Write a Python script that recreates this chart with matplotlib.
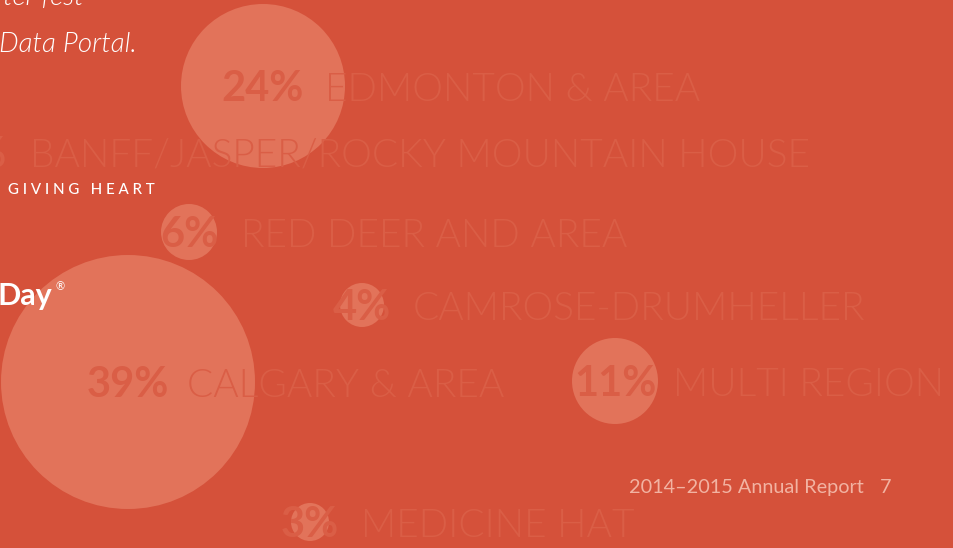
import matplotlib
matplotlib.use("Agg")
import matplotlib.pyplot as plt
from matplotlib.patches import Circle

# ---- data ----
regions = ["EDMONTON & AREA", "BANFF/JASPER/ROCKY MOUNTAIN HOUSE", "RED DEER AND AREA",
           "CAMROSE-DRUMHELLER", "CALGARY & AREA", "MULTI REGION", "MEDICINE HAT"]
percents = [24, 2, 6, 4, 39, 11, 3]

# ---- layout (pixel coordinates of the page) ----
bubble_x = [263, -22, 189, 362, 128, 615, 310]
bubble_y = [86, 152, 232, 305, 382, 381, 522]
label_x = [325, 30, 241, 413, 187, 673, 361]

BG = "#D5513A"
BUBBLE = "#E2735A"
TXT = "#DA5E46"

W, H = 954, 548
fig = plt.figure(figsize=(W / 100, H / 100), dpi=100, facecolor=BG)
ax = fig.add_axes([0, 0, 1, 1])
ax.set_xlim(0, W)
ax.set_ylim(H, 0)
ax.set_facecolor(BG)
ax.axis("off")

FS = 28  # points
for name, p, cx, cy, lx in zip(regions, percents, bubble_x, bubble_y, label_x):
    r = 10 + 3 * p
    ax.add_patch(Circle((cx, cy), r, facecolor=BUBBLE, edgecolor="none", zorder=1))
    base = cy + 15
    ax.text(cx, base, f"{p}%", ha="center", va="baseline", fontsize=30,
            fontfamily="Lato", fontweight=700, color=TXT, zorder=2)
    ax.text(lx, base, name, ha="left", va="baseline", fontsize=FS,
            fontfamily="Lato", fontweight=300, color=TXT, zorder=2)

# other page text
ax.text(84, 5, "ter fest", ha="right", va="baseline", fontsize=20, fontfamily="Lato",
        fontstyle="italic", fontweight=300, color="white", zorder=3)
ax.text(137, 52, "Data Portal.", ha="right", va="baseline", fontsize=20, fontfamily="Lato",
        fontstyle="italic", fontweight=300, color="white", zorder=3)
ax.text(8, 194, "G I V I N G   H E A R T", ha="left", va="baseline", fontsize=10.8,
        fontfamily="Lato", fontweight=500, color="white", zorder=3)
ax.text(-3, 305, "Day", ha="left", va="baseline", fontsize=22, fontfamily="Lato",
        fontweight=700, color="white", zorder=3)
ax.text(56, 290, "®", ha="left", va="baseline", fontsize=8, fontfamily="Lato",
        color="white", zorder=3)
ax.text(629, 493, "2014–2015 Annual Report", ha="left", va="baseline", fontsize=14.3,
        fontfamily="Lato", fontweight=400, color="#F2B3A2", zorder=3)
ax.text(880, 493, "7", ha="left", va="baseline", fontsize=14.3,
        fontfamily="Lato", fontweight=400, color="#F2B3A2", zorder=3)

fig.savefig("out.png", dpi=100, facecolor=BG)
